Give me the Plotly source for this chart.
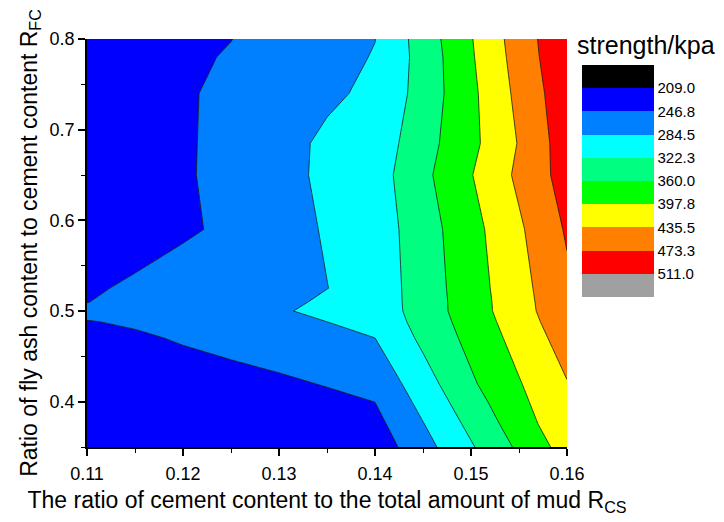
import plotly.graph_objects as go

# Grid of mix ratios
r_cs = [0.11, 0.115, 0.12, 0.125, 0.13, 0.135, 0.14, 0.145, 0.15, 0.155, 0.16]
r_fc = [0.35, 0.375, 0.40, 0.42, 0.47, 0.488, 0.50, 0.51, 0.525, 0.59, 0.65, 0.685, 0.74, 0.78, 0.80]

# Strength (kPa), one row per R_FC value
strength = [
    [220, 222, 223, 224, 225, 225, 224.8, 270.7, 318.4, 366.6, 413.9],
    [222, 225, 228, 231, 233, 234.5, 235.4, 282.9, 331.4, 379.2, 425.7],
    [224, 227, 230, 233, 236, 239.1, 247.0, 295.7, 344.5, 388.8, 430.9],
    [225, 228, 231, 235, 241.1, 248.7, 257.2, 306.1, 354.7, 395.3, 434.0],
    [238, 242.0, 249.7, 257.4, 265.1, 272.8, 284.3, 330.1, 370.6, 410.9, 451.7],
    [245.2, 250.7, 258.4, 266.1, 273.8, 284.4, 295.5, 335.8, 376.0, 416.7, 458.8],
    [255, 262, 268, 273, 279.5, 296.1, 299.0, 339.1, 379.3, 420.4, 462.7],
    [246.0, 258, 263, 268, 272.9, 292.0, 300, 339.3, 379.5, 421.3, 464],
    [243.4, 250.5, 267.1, 272, 278, 284.0, 300, 340.1, 380.8, 423.0, 466],
    [232, 236, 240.5, 255.0, 271.0, 287.5, 301.8, 342.8, 384.9, 430.0, 477.4],
    [230, 237, 242.4, 258.0, 273.6, 291.3, 304.8, 350.8, 396.0, 442.9, 489],
    [229, 236, 242.1, 257.7, 273.3, 290.5, 299.4, 345.5, 388.0, 437.7, 493.2],
    [228, 235, 242.7, 254.8, 266.9, 279.0, 291.0, 337.0, 389.3, 445.0, 498],
    [226, 233, 241, 249.2, 261.1, 273.0, 286.4, 336.2, 393.5, 450.6, 504],
    [225, 232, 240, 246.3, 258.9, 271.5, 284.0, 338.9, 395.5, 453.3, 505],
]

# Contour levels and their labels
levels = [209.0, 246.75, 284.5, 322.25, 360.0, 397.75, 435.5, 473.25, 511.0]
level_labels = ["209.0", "246.8", "284.5", "322.3", "360.0", "397.8", "435.5", "473.3", "511.0"]

# Band colours, from below the lowest level to above the highest
band_colors = ["#000000", "#0000FF", "#0080FF", "#00FFFF", "#00FF80",
               "#00FF00", "#FFFF00", "#FF8000", "#FF0000", "#A0A0A0"]

step = levels[1] - levels[0]
n_bands = len(band_colors)

# Contour fill colours are sampled at band centres (k / 9)
fill_scale = [[k / (n_bands - 1), c] for k, c in enumerate(band_colors)]

# The colour key runs top-down from low to high strength, so it is built
# on negated levels: one equal stepped box per band
key_colors = band_colors[::-1]
key_scale = []
for k, c in enumerate(key_colors):
    key_scale.append([k / n_bands, c])
    key_scale.append([(k + 1) / n_bands, c])
key_ticks = [-v for v in levels]

FONT = "Arial, 'Liberation Sans', sans-serif"

fig = go.Figure()

# Transparent carrier for the colour key (drawn beneath the contour)
fig.add_trace(go.Heatmap(
    x=[r_cs[0]], y=[r_fc[0]], z=[[-levels[4]]],
    zmin=-(levels[-1] + step), zmax=-(levels[0] - step),
    colorscale=key_scale,
    opacity=0,
    showscale=True,
    hoverinfo="skip",
    colorbar=dict(
        thickness=72, thicknessmode="pixels",
        len=232, lenmode="pixels",
        x=1.0306, xanchor="left", xpad=0,
        y=0.9363, yanchor="top", ypad=0,
        outlinewidth=0,
        tickvals=key_ticks, ticktext=level_labels,
        ticks="", ticklen=0,
        tickfont=dict(family=FONT, size=15, color="black"),
    ),
))

fig.add_trace(go.Contour(
    x=r_cs, y=r_fc, z=strength,
    autocontour=False,
    contours=dict(start=levels[0], end=levels[-1], size=step,
                  coloring="fill", showlines=True),
    colorscale=fill_scale,
    line=dict(color="#1a1a1a", width=0.8, smoothing=0),
    showscale=False,
    hoverinfo="x+y+z",
))

fig.add_annotation(
    text="strength/kpa", xref="paper", yref="paper",
    x=1.0167, y=0.9853, xanchor="left", yanchor="middle",
    showarrow=False, font=dict(family=FONT, size=25, color="black"),
)

axis_common = dict(
    showline=True, linecolor="black", linewidth=1.5,
    ticks="outside", ticklen=7, tickwidth=1.5, tickcolor="black",
    showgrid=False, zeroline=False, mirror=False,
    tickfont=dict(family=FONT, size=18, color="black"),
)

fig.update_layout(
    width=724, height=522,
    margin=dict(l=87, r=157, t=39, b=75),
    paper_bgcolor="white", plot_bgcolor="white",
    font=dict(family=FONT, color="black"),
    showlegend=False,
    xaxis=dict(
        range=[0.11, 0.16], tick0=0.11, dtick=0.01, tickformat=".2f",
        ticklabelstandoff=3,
        minor=dict(ticks="outside", ticklen=4, tickwidth=1.2, tickcolor="black", dtick=0.005),
        title=dict(text="The ratio of cement content to the total amount of mud R<sub>CS</sub>",
                   font=dict(family=FONT, size=23, color="black"), standoff=9),
        **axis_common,
    ),
    yaxis=dict(
        range=[0.35, 0.80], tick0=0.4, dtick=0.1, tickformat=".1f",
        minor=dict(ticks="outside", ticklen=4, tickwidth=1.2, tickcolor="black", dtick=0.05),
        title=dict(text="Ratio of fly ash content to cement content R<sub>FC</sub>",
                   font=dict(family=FONT, size=23, color="black"), standoff=6),
        **axis_common,
    ),
)

fig.write_html("out.html")
